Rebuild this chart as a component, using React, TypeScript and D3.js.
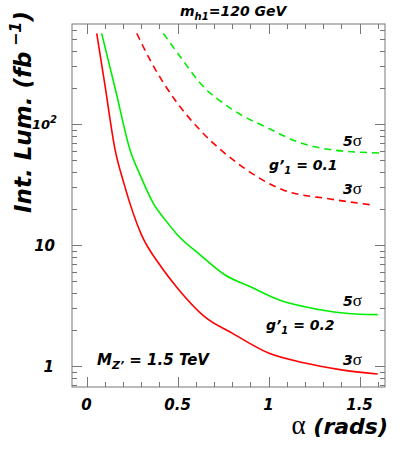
import React from "react";
import * as d3 from "d3";

// 3 sigma, g'1 = 0.2 (red solid)
const redSolidAlpha = [0.056, 0.1, 0.157, 0.206, 0.3, 0.404, 0.5, 0.65, 0.8, 1.0, 1.2, 1.4, 1.6];
const redSolidLumi = [560, 214, 61, 32, 12.3, 6.8, 4.4, 2.55, 1.87, 1.28, 1.06, 0.93, 0.86];

// 5 sigma, g'1 = 0.2 (green solid)
const greenSolidAlpha = [0.083, 0.16, 0.239, 0.294, 0.367, 0.44, 0.5, 0.624, 0.761, 0.9, 1.063, 1.2, 1.41, 1.5, 1.6];
const greenSolidLumi = [560, 189, 61, 38, 22.1, 15.6, 12.1, 8.3, 5.65, 4.52, 3.5, 3.09, 2.74, 2.68, 2.66];

// 3 sigma, g'1 = 0.1 (red dashed)
const redDashAlpha = [0.276, 0.349, 0.486, 0.624, 0.843, 1.08, 1.338, 1.574];
const redDashLumi = [560, 338, 158, 89, 45.8, 28.5, 24, 21.4];

// 5 sigma, g'1 = 0.1 (green dashed)
const greenDashAlpha = [0.422, 0.52, 0.624, 0.805, 1.0, 1.173, 1.354, 1.613];
const greenDashLumi = [560, 351, 218, 130.6, 92, 70, 61, 57.6];

const xTickLabels = ["0", "0.5", "1", "1.5"];
const xTickValues = [0, 0.5, 1, 1.5];

const FONT = "'DejaVu Sans', Verdana, sans-serif";
const GREEK = "'Liberation Serif', 'Times New Roman', serif";
const AXIS = "#777";

const App = () => {
  const width = 399;
  const height = 452;
  const left = 72;
  const right = 385;
  const top = 24;
  const bottom = 387;

  const x = d3.scaleLinear().domain([-0.08, 1.64]).range([left, right]);
  const y = d3.scaleLog().domain([0.671, 670]).range([bottom, top]);

  const line = d3
    .line<[number, number]>()
    .x((d) => x(d[0]))
    .y((d) => y(d[1]))
    .curve(d3.curveMonotoneX);

  const zip = (a: number[], b: number[]) => a.map((v, i) => [v, b[i]] as [number, number]);

  const curves = [
    { pts: zip(redSolidAlpha, redSolidLumi), color: "#ff0000", dash: null },
    { pts: zip(greenSolidAlpha, greenSolidLumi), color: "#00ee00", dash: null },
    { pts: zip(redDashAlpha, redDashLumi), color: "#ff0000", dash: "7,5" },
    { pts: zip(greenDashAlpha, greenDashLumi), color: "#00ee00", dash: "7,5" },
  ];

  // y ticks: every integer multiple inside each decade
  const yTicks: { v: number; major: boolean }[] = [];
  [0.1, 1, 10, 100].forEach((dec) => {
    for (let k = 1; k <= 9; k++) {
      const v = dec * k;
      if (v >= 0.671 && v <= 670) yTicks.push({ v, major: k === 1 });
    }
  });
  const xTicks = d3.range(0, 17).map((i) => ({ v: i / 10, major: i % 5 === 0 }));

  const it = { fontFamily: FONT, fontWeight: "bold", fontStyle: "italic" } as const;
  const greek = { fontFamily: GREEK, fontWeight: "normal", fontStyle: "normal" } as const;

  return (
    <svg
      width={width}
      height={height}
      style={{ position: "absolute", left: 0, top: 0, background: "#fff" }}
    >
      <rect x={0} y={0} width={width} height={height} fill="#fff" />

      {curves.map((c, i) => (
        <path
          key={i}
          d={line(c.pts) || ""}
          fill="none"
          stroke={c.color}
          strokeWidth={1.6}
          strokeDasharray={c.dash || undefined}
        />
      ))}

      {/* frame */}
      <rect x={left} y={top} width={right - left} height={bottom - top} fill="none" stroke={AXIS} strokeWidth={1} />

      {yTicks.map((t, i) => {
        const len = t.major ? 10 : 5;
        const yy = Math.round(y(t.v)) + 0.5;
        return (
          <g key={"y" + i} stroke={AXIS}>
            <line x1={left} x2={left + len} y1={yy} y2={yy} />
            <line x1={right} x2={right - len} y1={yy} y2={yy} />
          </g>
        );
      })}
      {xTicks.map((t, i) => {
        const len = t.major ? 10 : 5;
        const xx = Math.round(x(t.v)) + 0.5;
        return (
          <g key={"x" + i} stroke={AXIS}>
            <line x1={xx} x2={xx} y1={bottom} y2={bottom - len} />
            <line x1={xx} x2={xx} y1={top} y2={top + len} />
          </g>
        );
      })}

      {/* y tick labels */}
      <text x={57} y={y(100) + 5} textAnchor="end" fontSize={13} {...it}>
        10<tspan dy={-6} fontSize={10}>2</tspan>
      </text>
      <text x={55} y={y(10) + 6} textAnchor="end" fontSize={15} {...it}>10</text>
      <text x={54} y={y(1) + 6} textAnchor="end" fontSize={15} {...it}>1</text>

      {/* x tick labels */}
      {xTickValues.map((v, i) => (
        <text key={i} x={x(v)} y={410} textAnchor="middle" fontSize={15} {...it}>
          {xTickLabels[i]}
        </text>
      ))}

      {/* axis titles */}
      <text x={388} y={434} textAnchor="end" fontSize={22} {...it}>
        <tspan {...greek} fontSize={27}>α</tspan> (rads)
      </text>
      <text transform="translate(31,112) rotate(-90)" textAnchor="middle" fontSize={23} {...it}>
        Int. Lum. (fb<tspan dy={-10} fontSize={16}> −1</tspan>
        <tspan dy={10}>)</tspan>
      </text>

      {/* title */}
      <text x={180} y={16} fontSize={14} {...it}>
        m<tspan dy={4} fontSize={10}>h1</tspan>
        <tspan dy={-4}>=120 GeV</tspan>
      </text>

      {/* curve annotations */}
      <text x={343} y={146} fontSize={14} {...it}>
        5<tspan {...greek} fontSize={17}>σ</tspan>
      </text>
      <text x={269} y={170} fontSize={14} {...it}>
        g’<tspan dy={4} fontSize={10}>1</tspan>
        <tspan dy={-4}> = 0.1</tspan>
      </text>
      <text x={343} y={194} fontSize={14} {...it}>
        3<tspan {...greek} fontSize={17}>σ</tspan>
      </text>
      <text x={343} y={306} fontSize={14} {...it}>
        5<tspan {...greek} fontSize={17}>σ</tspan>
      </text>
      <text x={266} y={330} fontSize={14} {...it}>
        g’<tspan dy={4} fontSize={10}>1</tspan>
        <tspan dy={-4}> = 0.2</tspan>
      </text>
      <text x={343} y={365} fontSize={14} {...it}>
        3<tspan {...greek} fontSize={17}>σ</tspan>
      </text>
      <text x={97} y={365} fontSize={15} {...it}>
        M<tspan dy={4} fontSize={11}>Z’</tspan>
        <tspan dy={-4}> = 1.5 TeV</tspan>
      </text>
    </svg>
  );
};

export default App;
